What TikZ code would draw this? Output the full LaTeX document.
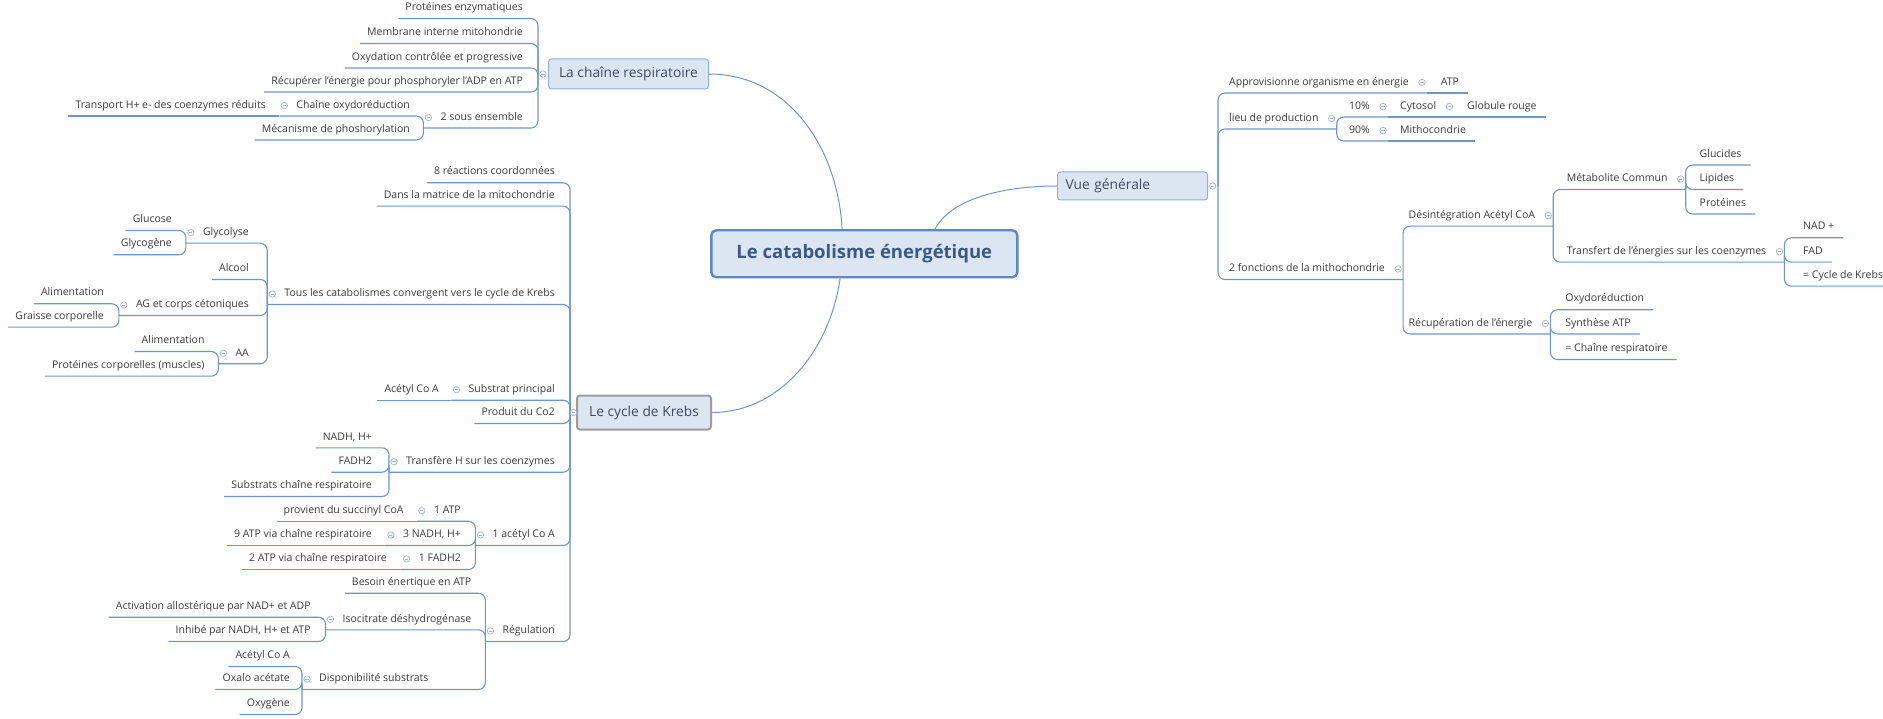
\documentclass[tikz,border=0pt]{standalone}
\usepackage{fontspec}
\setmainfont{Open Sans}
\usetikzlibrary{calc}
\definecolor{ln}{HTML}{6E96CE}
\definecolor{bxfill}{HTML}{DCE6F3}
\definecolor{bxdraw}{HTML}{8FB0DC}
\definecolor{txt}{HTML}{3A3A3A}
\definecolor{btxt}{HTML}{3E4C5E}
\definecolor{ctr}{HTML}{3A5A82}
\definecolor{cborder}{HTML}{5A88C8}
\definecolor{dotc}{HTML}{9FB3CD}
\definecolor{kgray}{HTML}{9C9C9C}
\tikzset{
  lt/.style={font=\fontsize{10.5}{12}\selectfont, text=txt, inner sep=0pt, text height=7.6pt, text depth=2.2pt, anchor=east},
  rt/.style={lt, anchor=west},
  br/.style={draw=ln, line width=1.1pt, rounded corners=7pt},
  mainln/.style={draw=ln, line width=1pt},
  bx/.style={draw=bxdraw, line width=1pt, fill=bxfill, rounded corners=3pt, text=btxt,
    font=\fontsize{13.8}{16}\selectfont, inner sep=0pt},
  knobst/.style={draw=dotc, fill=white, line width=0.7pt}
}
\newcommand\knob[1]{\path #1 coordinate (kk); \draw[knobst] (kk) circle[radius=3.2]; \draw[dotc,line width=0.6pt] ($(kk)+(-1.6,0)$) -- ($(kk)+(1.6,0)$);}
\begin{document}
\begin{tikzpicture}[x=1pt,y=-1pt]
\useasboundingbox (0,0) rectangle (1883,719);
\fill[white] (0,0) rectangle (1883,719);

% ---------- boxes ----------
\node[draw=cborder, line width=2.4pt, fill=bxfill, rounded corners=5pt, text=ctr,
  font=\fontsize{18.5}{22}\bfseries\selectfont, minimum width=306, minimum height=47, inner sep=0pt]
  (center) at (864.3,253.8) {Le catabolisme énergétique};
\node[bx, minimum width=160, minimum height=30, anchor=west] (chaine) at (548,74) {La chaîne respiratoire};
\node[bx, draw=kgray, line width=2pt, minimum width=134, minimum height=34, anchor=west] (krebs) at (576,412.5) {Le cycle de Krebs};
\node[bx, minimum width=150, minimum height=28, anchor=west, align=left, text width=134, inner xsep=8pt] (vue) at (1057,186) {Vue générale};

% ---------- main curves ----------
\draw[mainln] ($(center.north west)+(132,0)$) .. controls (838,150) and (790,74) .. (chaine.east);
\draw[mainln] ($(center.north west)+(225,0)$) .. controls (950,200) and (1000,186) .. (vue.west);
\draw[mainln] ($(center.south west)+(130,0)$) .. controls (830,350) and (780,412.5) .. (krebs.east);

% ---------- La chaine respiratoire ----------
\node[lt] (prot) at (523,8) {Protéines enzymatiques};
\node[lt] (memb) at (523,33) {Membrane interne mitohondrie};
\node[lt] (oxyd) at (523,57.5) {Oxydation contrôlée et progressive};
\node[lt] (recu) at (523,81.5) {Récupérer l'énergie pour phosphoryler l'ADP en ATP};
\node[lt] (sous) at (523,117.5) {2 sous ensemble};
\node[lt] (choxy) at (410,105.5) {Chaîne oxydoréduction};
\node[lt] (meca) at (410,129.5) {Mécanisme de phoshorylation};
\node[lt] (transp) at (266,105.5) {Transport H+ e- des coenzymes réduits};

\coordinate (Jchaine) at ($(chaine.west)+(-10,0)$);
\coordinate (Jsous) at ($(sous.west)+(-17,10.5)$);
\coordinate (Jchoxy) at ($(choxy.west)+(-17,10.5)$);
\draw[br] (Jchaine) |- ($(prot.west)+(-7,10.5)$);
\draw[br] (Jchaine) |- ($(memb.west)+(-7,10.5)$);
\draw[br] (Jchaine) |- ($(oxyd.west)+(-7,10.5)$);
\draw[br] (Jchaine) |- ($(recu.west)+(-7,10.5)$);
\draw[br] (Jchaine) |- (Jsous);
\draw[br] (Jsous) |- (Jchoxy);
\draw[br] (Jsous) |- ($(meca.west)+(-7,10.5)$);
\draw[br] (Jchoxy) -- ($(transp.west)+(-7,10.5)$);

% ---------- Le cycle de Krebs ----------
\node[lt] (reac) at (555,172.3) {8 réactions coordonnées};
\node[lt] (matr) at (555,195.7) {Dans la matrice de la mitochondrie};
\node[lt] (tous) at (555,294) {Tous les catabolismes convergent vers le cycle de Krebs};
\node[lt] (glyc) at (249,232.7) {Glycolyse};
\node[lt] (gluco) at (172,220) {Glucose};
\node[lt] (glyco) at (172,244.3) {Glycogène};
\node[lt] (alco) at (249,269) {Alcool};
\node[lt] (agcc) at (249,305) {AG et corps cétoniques};
\node[lt] (alima) at (104,293.3) {Alimentation};
\node[lt] (grai) at (104,316.7) {Graisse corporelle};
\node[lt] (aa) at (249,353.3) {AA};
\node[lt] (alimb) at (204.7,341) {Alimentation};
\node[lt] (protc) at (204.7,365.7) {Protéines corporelles (muscles)};
\node[lt] (subs) at (555,389.7) {Substrat principal};
\node[lt] (aceta) at (439,389.7) {Acétyl Co A};
\node[lt] (prod) at (555,413) {Produit du Co2};
\node[lt] (trah) at (555,461.7) {Transfère H sur les coenzymes};
\node[lt] (nadh) at (372,437.3) {NADH, H+};
\node[lt] (fadh) at (372,461.7) {FADH2};
\node[lt] (subch) at (372,486) {Substrats chaîne respiratoire};
\node[lt] (acet) at (555,535) {1 acétyl Co A};
\node[lt] (atpa) at (461,510.7) {1 ATP};
\node[lt] (succ) at (403.7,510.7) {provient du succinyl CoA};
\node[lt] (nadhc) at (461,535) {3 NADH, H+};
\node[lt] (atpn) at (372,535) {9 ATP via chaîne respiratoire};
\node[lt] (fadha) at (461,559) {1 FADH2};
\node[lt] (atpb) at (387,559) {2 ATP via chaîne respiratoire};
\node[lt] (regu) at (555,631) {Régulation};
\node[lt] (beso) at (471.5,582.7) {Besoin énertique en ATP};
\node[lt] (isoc) at (471.5,619.3) {Isocitrate déshydrogénase};
\node[lt] (acti) at (310.8,606.7) {Activation allostérique par NAD+ et ADP};
\node[lt] (inhi) at (310.8,631) {Inhibé par NADH, H+ et ATP};
\node[lt] (disp) at (428.6,679) {Disponibilité substrats};
\node[lt] (acetb) at (290,656) {Acétyl Co A};
\node[lt] (oxal) at (290,679) {Oxalo acétate};
\node[lt] (oxyg) at (290,704) {Oxygène};

\coordinate (Jkrebs) at ($(krebs.west)+(-6,0)$);
\foreach \n in {tous,glyc,agcc,aa,subs,trah,acet,atpa,nadhc,fadha,regu,isoc,disp}{
  \coordinate (J\n) at ($(\n.west)+(-17,10.5)$);
}
\draw[br] (Jkrebs) |- ($(reac.west)+(-7,10.5)$);
\draw[br] (Jkrebs) |- ($(matr.west)+(-7,10.5)$);
\draw[br] (Jkrebs) |- (Jtous);
\draw[br] (Jkrebs) |- (Jsubs);
\draw[br] (Jkrebs) |- ($(prod.west)+(-7,10.5)$);
\draw[br] (Jkrebs) |- (Jtrah);
\draw[br] (Jkrebs) |- (Jacet);
\draw[br] (Jkrebs) |- (Jregu);
% Tous
\draw[br] (Jtous) |- (Jglyc);
\draw[br] (Jtous) |- ($(alco.west)+(-7,10.5)$);
\draw[br] (Jtous) |- (Jagcc);
\draw[br] (Jtous) |- (Jaa);
\draw[br] (Jglyc) |- ($(gluco.west)+(-7,10.5)$);
\draw[br] (Jglyc) |- ($(glyco.west)+(-7,10.5)$);
\draw[br] (Jagcc) |- ($(alima.west)+(-7,10.5)$);
\draw[br] (Jagcc) |- ($(grai.west)+(-7,10.5)$);
\draw[br] (Jaa) |- ($(alimb.west)+(-7,10.5)$);
\draw[br] (Jaa) |- ($(protc.west)+(-7,10.5)$);
% Substrat
\draw[br] (Jsubs) -- ($(aceta.west)+(-7,10.5)$);
% Transfere
\draw[br] (Jtrah) |- ($(nadh.west)+(-7,10.5)$);
\draw[br] (Jtrah) |- ($(fadh.west)+(-7,10.5)$);
\draw[br] (Jtrah) |- ($(subch.west)+(-7,10.5)$);
% 1 acetyl
\draw[br] (Jacet) |- (Jatpa);
\draw[br] (Jacet) |- (Jnadhc);
\draw[br] (Jacet) |- (Jfadha);
\draw[br] (Jatpa) -- ($(succ.west)+(-7,10.5)$);
\draw[br] (Jnadhc) -- ($(atpn.west)+(-7,10.5)$);
\draw[br] (Jfadha) -- ($(atpb.west)+(-7,10.5)$);
% Regulation
\draw[br] (Jregu) |- ($(beso.west)+(-7,10.5)$);
\draw[br] (Jregu) |- (Jisoc);
\draw[br] (Jregu) |- (Jdisp);
\draw[br] (Jisoc) |- ($(acti.west)+(-7,10.5)$);
\draw[br] (Jisoc) |- ($(inhi.west)+(-7,10.5)$);
\draw[br] (Jdisp) |- ($(acetb.west)+(-7,10.5)$);
\draw[br] (Jdisp) |- ($(oxal.west)+(-7,10.5)$);
\draw[br] (Jdisp) |- ($(oxyg.west)+(-7,10.5)$);

% ---------- Vue generale ----------
\node[rt] (appro) at (1229,82.5) {Approvisionne organisme en énergie};
\node[rt] (atpv) at (1440.7,82.5) {ATP};
\node[rt] (lieu) at (1229,118.5) {lieu de production};
\node[rt] (pdix) at (1349,106.5) {10\%};
\node[rt] (cyto) at (1400,106.5) {Cytosol};
\node[rt] (glob) at (1467,106.5) {Globule rouge};
\node[rt] (pnon) at (1349,130.5) {90\%};
\node[rt] (mitho) at (1400,130.5) {Mithocondrie};
\node[rt] (fonc) at (1229,269) {2 fonctions de la mithochondrie};
\node[rt] (desi) at (1408.5,215.7) {Désintégration Acétyl CoA};
\node[rt] (meta) at (1566.6,179) {Métabolite Commun};
\node[rt] (gluc) at (1699.5,154.5) {Glucides};
\node[rt] (lipi) at (1699.5,179) {Lipides};
\node[rt] (prote) at (1699.5,203.5) {Protéines};
\node[rt] (trans) at (1566.6,251.7) {Transfert de l'énergies sur les coenzymes};
\node[rt] (nad) at (1803,227.3) {NAD +};
\node[rt] (fad) at (1803,251.7) {FAD};
\node[rt] (cyk) at (1803,275.7) {= Cycle de Krebs};
\node[rt] (recup) at (1408.5,323.5) {Récupération de l'énergie};
\node[rt] (oxyr) at (1565.2,299.3) {Oxydoréduction};
\node[rt] (synt) at (1565.2,323.5) {Synthèse ATP};
\node[rt] (chr) at (1565.2,349) {= Chaîne respiratoire};

\coordinate (Jvue) at ($(vue.east)+(10,0)$);
\foreach \n in {appro,lieu,pdix,cyto,pnon,fonc,desi,meta,trans,recup}{
  \coordinate (J\n) at ($(\n.east)+(18,10.5)$);
}
\draw[br] (Jvue) |- (Jappro);
\draw[br] (Jvue) |- (Jlieu);
\draw[br] (Jvue) |- (Jfonc);
\draw[br] (Jappro) -- ($(atpv.east)+(9,10.5)$);
\draw[br] (Jlieu) |- (Jpdix);
\draw[br] (Jlieu) |- (Jpnon);
\draw[br] (Jpdix) -- (Jcyto);
\draw[br] (Jcyto) -- ($(glob.east)+(9,10.5)$);
\draw[br] (Jpnon) -- ($(mitho.east)+(9,10.5)$);
\draw[br] (Jfonc) |- (Jdesi);
\draw[br] (Jfonc) |- (Jrecup);
\draw[br] (Jdesi) |- (Jmeta);
\draw[br] (Jdesi) |- (Jtrans);
\draw[br] (Jmeta) |- ($(gluc.east)+(9,10.5)$);
\draw[br] (Jmeta) |- ($(lipi.east)+(9,10.5)$);
\draw[br] (Jmeta) |- ($(prote.east)+(9,10.5)$);
\draw[br] (Jtrans) |- ($(nad.east)+(9,10.5)$);
\draw[br] (Jtrans) |- ($(fad.east)+(9,10.5)$);
\draw[br] (Jtrans) |- ($(cyk.east)+(9,10.5)$);
\draw[br] (Jrecup) |- ($(oxyr.east)+(9,10.5)$);
\draw[br] (Jrecup) |- ($(synt.east)+(9,10.5)$);
\draw[br] (Jrecup) |- ($(chr.east)+(9,10.5)$);

% ---------- knobs ----------
\knob{($(chaine.west)+(-5,0)$)}
\knob{($(krebs.west)+(-2.5,0)$)}
\knob{($(vue.east)+(4.7,0)$)}
\foreach \n in {sous,choxy,tous,glyc,agcc,aa,subs,trah,acet,atpa,nadhc,fadha,regu,isoc,disp}{
  \knob{($(\n.west)+(-12,0)$)}
}
\foreach \n in {appro,lieu,pdix,cyto,pnon,fonc,desi,meta,trans,recup}{
  \knob{($(\n.east)+(13,0)$)}
}
\end{tikzpicture}
\end{document}
